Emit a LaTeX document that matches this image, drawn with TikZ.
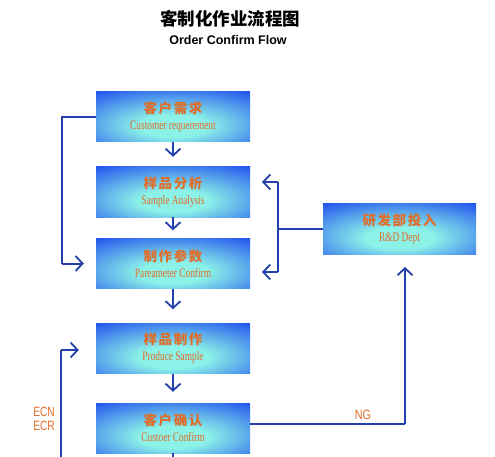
\documentclass[tikz,border=0pt]{standalone}
\usepackage{fontspec}
\setmainfont{Liberation Serif}
\setsansfont{Liberation Sans}
\newfontfamily\cjk{Noto Sans CJK SC}[BoldFont={* Black}]
\usetikzlibrary{arrows.meta,calc}
\definecolor{boxblue}{RGB}{14,52,240}
\definecolor{boxcyan}{RGB}{140,242,232}
\definecolor{linkblue}{RGB}{35,65,170}
\definecolor{txtorange}{RGB}{225,108,40}
\pgfdeclareradialshading{boxshade}{\pgfpoint{0bp}{-10bp}}{%
  color(0bp)=(boxcyan); color(11bp)=(boxcyan); color(46bp)=(boxblue); color(100bp)=(boxblue)}
\tikzset{
  flowbox/.style={shading=boxshade, minimum width=154pt, minimum height=50pt,
    inner sep=0pt, align=center, text=txtorange},
  link/.style={draw=linkblue, line width=2pt},
  arr/.style={link, -{Straight Barb[length=7pt,width=15pt,line width=1.8pt]}},
  lbl/.style={text=txtorange, inner sep=0pt, font=\sffamily\fontsize{13.5}{14}\selectfont}
}
\newcommand{\boxtext}[2]{{\cjk\bfseries\fontsize{13.5}{16}\addfontfeature{LetterSpace=12}\selectfont #1}\\[4pt]%
  {\fontsize{13}{14}\selectfont\scalebox{0.72}[1]{#2}}}
\begin{document}
\begin{tikzpicture}[x=1pt,y=-1pt]
\useasboundingbox (0,0) rectangle (495,457);
\fill[white] (0,0) rectangle (495,457);
% title
\node (t1) at (230,19) {\cjk\bfseries\fontsize{17.5}{18}\selectfont 客制化作业流程图};
\node (t2) at (228,40) {\sffamily\bfseries\fontsize{12.5}{13}\selectfont Order Confirm Flow};
% boxes
\node[flowbox] (b1) at (173,117) {\boxtext{客户需求}{Customer requerement}};
\node[flowbox] (b2) at (173,192) {\boxtext{样品分析}{Sample Analysis}};
\node[flowbox] (b3) at (173,263.5) {\boxtext{制作参数}{Pareameter Confirm}};
\node[flowbox] (b4) at (173,348.5) {\boxtext{样品制作}{Produce Sample}};
\node[flowbox] (b5) at (173,428) {\boxtext{客户确认}{Custoer Confirm}};
\node[flowbox, minimum width=153pt] (rd) at (399.5,229) {\boxtext{研发部投入}{R\&D Dept}};
% vertical arrows
\draw[arr, shorten >=10pt] (b1.south) -- (b2.north);
\draw[arr, shorten >=8pt] (b2.south) -- (b3.north);
\draw[arr, shorten >=14pt] (b3.south) -- (b4.north);
\draw[arr, shorten >=11pt] (b4.south) -- (b5.north);
\coordinate (bot) at (173,460);
\draw[link] (b5.south) -- (bot);
% left loop from customer requirement to parameter
\coordinate (l1) at (62,117);
\coordinate (l2) at (62,263.5);
\draw[link] (b1.west) -- (l1) -- (l2);
\draw[arr, shorten >=12pt] (l2) -- (b3.west);
% R&D feedback
\coordinate (r0) at (278,229);
\coordinate (r1) at (278,182);
\coordinate (r2) at (278,272);
\coordinate (r1t) at (250,182);
\coordinate (r2t) at (250,272);
\draw[link] (rd.west) -- (r0);
\draw[link] (r1) -- (r2);
\draw[arr, shorten >=12pt] (r1) -- (r1t);
\draw[arr, shorten >=12pt] (r2) -- (r2t);
% NG loop
\coordinate (n1) at (405,424);
\coordinate (n2) at (405,254);
\draw[link] ($(b5.east)+(0,-4)$) -- (n1);
\draw[arr, shorten >=13pt] (n1) -- (n2);
\node[lbl] (ng) at (363,415) {\scalebox{0.8}[1]{NG}};
% ECN loop
\coordinate (e0) at (61,460);
\coordinate (e1) at (61,350);
\draw[link] (e0) -- (e1);
\draw[arr, shorten >=17pt] (e1) -- (b4.west |- e1);
\node[lbl] (ecn) at (44,412) {\scalebox{0.75}[1]{ECN}};
\node[lbl] (ecr) at (44,425.5) {\scalebox{0.75}[1]{ECR}};
\end{tikzpicture}
\end{document}
